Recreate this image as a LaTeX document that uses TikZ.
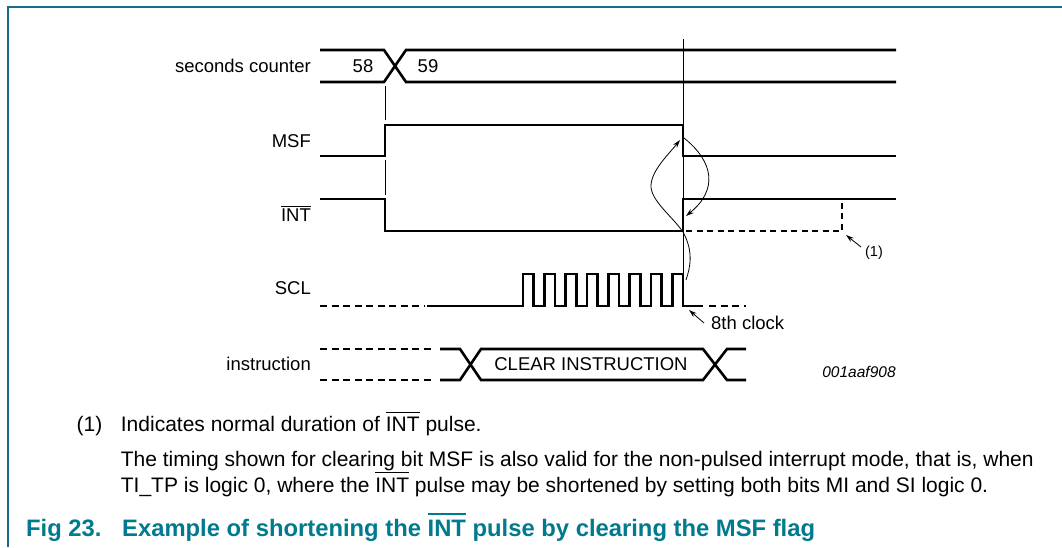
\documentclass[tikz,border=0pt]{standalone}
\usepackage{fontspec}
\setmainfont{Liberation Sans}
\usetikzlibrary{arrows.meta}
\definecolor{frametc}{RGB}{22,108,132}
\definecolor{titletc}{RGB}{0,122,142}
\newcommand\ovbar[3]{\leavevmode\vbox{\hrule height #1\kern #2\hbox{#3}}}
\begin{document}
\begin{tikzpicture}[x=1pt,y=-1pt,
  sig/.style={line width=2.6pt},
  thinln/.style={line width=0.9pt},
  dsig/.style={line width=2.6pt, dash pattern=on 7pt off 4.5pt},
  lab/.style={font=\fontsize{18.5}{22}\selectfont, inner sep=0pt},
  small/.style={font=\fontsize{14.5}{17}\selectfont, inner sep=0pt},
  body/.style={font=\fontsize{21}{25}\selectfont, inner sep=0pt, anchor=base west},
  arr/.style={line width=0.8pt, -{Stealth[length=8pt,width=5pt]}}]
\useasboundingbox (0,0) rectangle (1062,547);
\draw[frametc, line width=1.6pt] (1062,7) -- (8,7) -- (8,547);
% labels
\node[lab, anchor=base east] (lsc) at (311,72.5) {seconds counter};
\node[lab, anchor=base east] (lmsf) at (311,147.5) {MSF};
\node[lab, anchor=base east] (lint) at (311,221.5) {\ovbar{0.9pt}{2pt}{INT}};
\node[lab, anchor=base east] (lscl) at (311,294.5) {SCL};
\node[lab, anchor=base east] (lins) at (311,370.5) {instruction};
% seconds counter bus
\draw[sig] (320,50) -- (384,50) -- (406,82) -- (896,82);
\draw[sig] (320,82) -- (384,82) -- (406,50) -- (896,50);
\node[lab] (n58) at (363,66) {58};
\node[lab] (n59) at (428,66) {59};
% thin reference lines
\draw[thinln] (385,86) -- (385,120);
\draw[thinln] (385,160) -- (385,195);
\draw[thinln] (683,39) -- (683,274);
% MSF
\draw[sig] (320,156) -- (385,156) -- (385,125) -- (683,125) -- (683,156) -- (896,156);
% INT
\draw[sig] (320,199) -- (385,199) -- (385,231) -- (683,231) -- (683,199) -- (896,199);
\draw[dsig, dash pattern=on 6pt off 4.5pt] (686,231) -- (842,231) -- (842,199);
% SCL
\draw[dsig] (320,306) -- (424,306);
\draw[sig] (427,306) -- (523,306)
  \foreach \i in {0,...,7} { -- ({523+2*\i*10.6667},274) -- ({523+(2*\i+1)*10.6667},274)
     -- ({523+(2*\i+1)*10.6667},306) -- ({523+(2*\i+2)*10.6667},306) } -- (703,306);
\draw[dsig] (709,306) -- (746,306);
% instruction
\draw[dsig] (320,349) -- (433,349);
\draw[dsig] (320,380) -- (433,380);
\draw[sig] (440,349) -- (460,349) -- (481,380) -- (703,380) -- (727,349) -- (746,349);
\draw[sig] (440,380) -- (460,380) -- (481,349) -- (703,349) -- (727,380) -- (746,380);
\node[lab] (clr) at (591,364) {CLEAR INSTRUCTION};
\node[font=\fontsize{15.5}{18}\selectfont\itshape, inner sep=0pt] (code) at (859,372) {001aaf908};
% 8th clock
\node[lab, anchor=west] (eight) at (711,323) {8th clock};
\coordinate (eighttail) at (704,323);
\coordinate (eighttip) at (689,310);
\draw[arr] (eighttail) -- (eighttip);
% (1)
\node[small] (one) at (874,253) {(1)};
\coordinate (onetail) at (861,247);
\coordinate (onetip) at (846,235);
\draw[arr] (onetail) -- (onetip);
% curved arrows
\coordinate (c1s) at (686,280);
\coordinate (c1m) at (683,232);
\coordinate (c1t) at (680,140);
\draw[arr] (c1s) .. controls (690,268) and (694,252) .. (c1m)
  .. controls (672,216) and (650,200) .. (651,185)
  .. controls (652,170) and (668,155) .. (c1t);
\coordinate (c2s) at (684,138);
\coordinate (c2t) at (686,216);
\draw[arr] (c2s) .. controls (714,162) and (718,190) .. (c2t);
% text block
\node[body] (t1a) at (76.5,431) {(1)};
\node[body] (t1b) at (120.7,431) {Indicates normal duration of \ovbar{1pt}{4pt}{INT} pulse.};
\node[body] (t2) at (120.7,466) {The timing shown for clearing bit MSF is also valid for the non-pulsed interrupt mode, that is, when};
\node[body] (t3) at (120.7,492.7) {TI\_TP is logic 0, where the \ovbar{1pt}{5pt}{INT} pulse may be shortened by setting both bits MI and SI logic 0.};
\node[font=\fontsize{23.8}{28}\selectfont\bfseries, text=titletc, inner sep=0pt, anchor=base west] (fig) at (26,536.7) {Fig 23.};
\node[font=\fontsize{23.8}{28}\selectfont\bfseries, text=titletc, inner sep=0pt, anchor=base west] (ftitle) at (122,536.7) {Example of shortening the \color{titletc}\ovbar{2.5pt}{5pt}{INT} pulse by clearing the MSF flag};
\end{tikzpicture}
\end{document}
